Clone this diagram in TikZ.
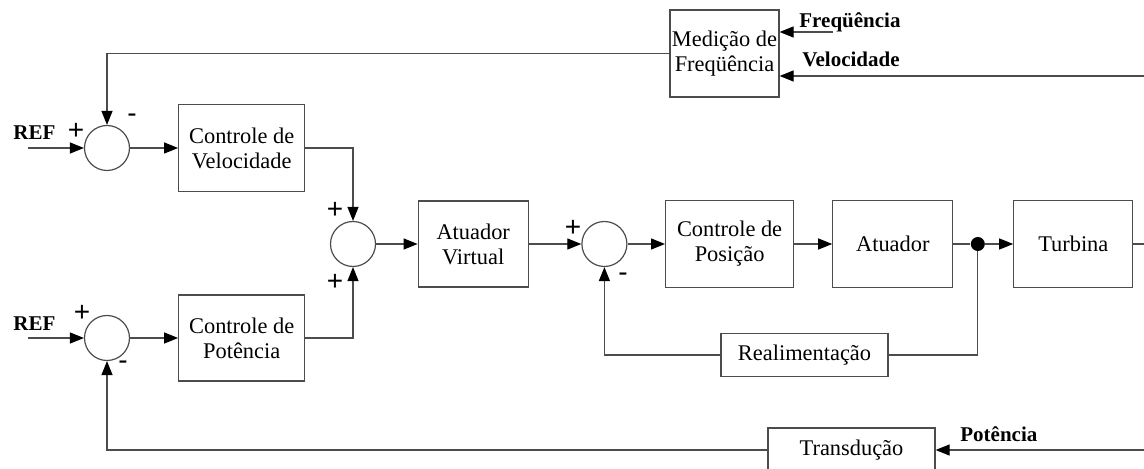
\documentclass[tikz,border=0pt]{standalone}
\usepackage{fontspec}
\setmainfont{Liberation Serif}
\newfontfamily\signfont{Liberation Sans}
\usepackage{tikz}
\usetikzlibrary{arrows.meta, positioning}
\definecolor{linegray}{gray}{0.3}
\tikzset{
  % Block diagram nodes
  blockbox/.style={
    rectangle, draw=linegray, line width=0.6pt,
    fill=white, align=center, inner sep=0pt,
    font=\fontsize{11.2}{12.5}\selectfont
  },
  sumnode/.style={
    circle, draw=linegray, line width=0.6pt,
    minimum size=22.5pt, inner sep=0pt
  },
  joinnode/.style={
    circle, fill=black, minimum size=7pt, inner sep=0pt
  },
  signlabel/.style={
    font=\signfont\fontsize{14}{14}\selectfont, inner sep=0pt
  },
  siglabel/.style={
    font=\bfseries\fontsize{10.5}{12}\selectfont,
    inner sep=0pt, anchor=base west
  },
  arrowstyle/.style={
    -{Triangle[length=7pt, width=5.5pt, color=black]},
    line width=0.6pt, draw=linegray
  },
  linestyle/.style={
    line width=0.6pt, draw=linegray
  }
}
\begin{document}
\begin{tikzpicture}[x=0.5pt, y=-0.5pt]
  \useasboundingbox (0,0) rectangle (1144,469);

  % Speed and power loops
  \node[sumnode] (sumV) at (107,148) {};
  \node[blockbox, minimum width=63pt, minimum height=43.5pt, right=24pt of sumV] (ctrlV) {Controle de\\Velocidade};
  \node[sumnode] (sumP) at (107,338) {};
  \node[blockbox, minimum width=63pt, minimum height=43pt, right=24pt of sumP] (ctrlP) {Controle de\\Potência};

  % Main chain
  \node[sumnode] (sumM) at (353,244) {};
  \node[blockbox, minimum width=55pt, minimum height=43pt, right=20.75pt of sumM] (atV) {Atuador\\Virtual};
  \node[sumnode, right=26.25pt of atV] (sumPos) {};
  \node[blockbox, minimum width=64pt, minimum height=43.5pt, right=18.75pt of sumPos] (ctrlPos) {Controle de\\Posição};
  \node[blockbox, minimum width=60pt, minimum height=43.5pt, right=19pt of ctrlPos] (atu) {Atuador};
  \node[joinnode, right=8.5pt of atu] (jn) {};
  \node[blockbox, minimum width=59.5pt, minimum height=43.5pt, right=14pt of jn] (turb) {Turbina};

  % Feedback blocks
  \node[blockbox, minimum width=83.5pt, minimum height=21.5pt] (realim) at (804.5,355) {Realimentação};
  \node[blockbox, minimum width=83.5pt, minimum height=22pt] (transd) at (851.5,450) {Transdução};
  \node[blockbox, minimum width=54.5pt, minimum height=43.5pt] (med) at (724.5,53.5) {Medição de\\Freqüência};

  % Signs at the summing points
  \node[signlabel] (pV) at (76,131) {+};
  \node[signlabel] (mV) at (132,118) {-};
  \node[signlabel] (pP) at (82,313) {+};
  \node[signlabel] (mP) at (123,365) {-};
  \node[signlabel] (pM1) at (335,210) {+};
  \node[signlabel] (pM2) at (335,282) {+};
  \node[signlabel] (pPos) at (573,228) {+};
  \node[signlabel] (mPos) at (623,277) {-};

  % Signal labels
  \node[siglabel] (refV) at (13,140) {REF};
  \node[siglabel] (refP) at (13,331) {REF};
  \node[siglabel] (lblF) at (799,28) {Freqüência};
  \node[siglabel] (lblV) at (802,67) {Velocidade};
  \node[siglabel] (lblP) at (960,442) {Potência};

  % Free ends
  \coordinate (inV) at (28,148);
  \coordinate (inP) at (28,338);
  \coordinate (inF) at (833,32);
  \coordinate (inVel) at (1144,76);
  \coordinate (inPot) at (1144,450);
  \coordinate (outT) at (1144,244);

  \draw[arrowstyle] (inV) -- (sumV);
  \draw[arrowstyle] (inP) -- (sumP);
  \draw[arrowstyle] (sumV) -- (ctrlV);
  \draw[arrowstyle] (sumP) -- (ctrlP);
  \draw[arrowstyle] (ctrlV.east) -| (sumM.north);
  \draw[arrowstyle] (ctrlP.east) -| (sumM.south);
  \draw[arrowstyle] (sumM) -- (atV);
  \draw[arrowstyle] (atV) -- (sumPos);
  \draw[arrowstyle] (sumPos) -- (ctrlPos);
  \draw[arrowstyle] (ctrlPos) -- (atu);
  \draw[linestyle] (atu) -- (jn);
  \draw[arrowstyle] (jn) -- (turb);
  \draw[linestyle] (turb) -- (outT);

  % Feedback paths
  \draw[linestyle] (jn) |- (realim.east);
  \draw[arrowstyle] (realim.west) -| (sumPos.south);
  \draw[arrowstyle] (inPot) -- (transd.east);
  \draw[arrowstyle] (transd.west) -| (sumP.south);
  \draw[arrowstyle] (inF) -- (inF -| med.east);
  \draw[arrowstyle] (inVel) -- (inVel -| med.east);
  \draw[arrowstyle] (med.west) -| (sumV.north);

\end{tikzpicture}
\end{document}
